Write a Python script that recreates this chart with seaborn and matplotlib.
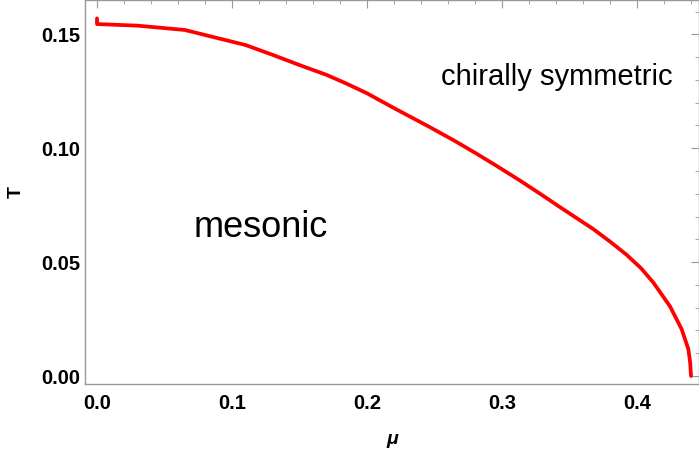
import matplotlib
matplotlib.use("Agg")
import matplotlib.pyplot as plt
import seaborn as sns
import pandas as pd
from matplotlib.ticker import MultipleLocator

sns.set_style("white")
plt.rcParams['font.family'] = ['Liberation Sans', 'DejaVu Sans']
plt.rcParams['text.color'] = 'black'
plt.rcParams['axes.labelcolor'] = 'black'

mu = [0.0, 0.0, 0.03, 0.065, 0.11, 0.13, 0.15, 0.17, 0.185, 0.20, 0.22, 0.2467,
      0.265, 0.28, 0.295, 0.3133, 0.33, 0.343, 0.3676, 0.38, 0.3923, 0.403, 0.4121,
      0.4244, 0.4331, 0.438, 0.4393, 0.4400]
T = [0.157, 0.1545, 0.1538, 0.1519, 0.1453, 0.1410, 0.1365, 0.1322, 0.1283, 0.1241,
     0.1176, 0.1092, 0.1032, 0.0980, 0.0926, 0.0858, 0.0793, 0.0741, 0.0645, 0.0590,
     0.0532, 0.0473, 0.0410, 0.0306, 0.0205, 0.0118, 0.0062, 0.0]
xticks = [0.0, 0.1, 0.2, 0.3, 0.4]
yticks = [0.00, 0.05, 0.10, 0.15]
region_labels = ["mesonic", "chirally symmetric"]

df = pd.DataFrame({"mu": mu, "T": T})

fig = plt.figure(figsize=(6.99, 4.5), dpi=100)
ax = fig.add_axes([85/699, 66/450, (699-85)/699, 384/450])
sns.lineplot(data=df, x="mu", y="T", sort=False, estimator=None,
             color="#ff0000", linewidth=2.7, ax=ax)
ax.lines[0].set_solid_joinstyle("round")

ax.set_xlim(-0.00889, 0.4459)
ax.set_ylim(-0.00351, 0.16506)
ax.set_xticks(xticks)
ax.set_yticks(yticks)
ax.set_xticklabels([f"{v:.1f}" for v in xticks])
ax.set_yticklabels([f"{v:.2f}" for v in yticks])
ax.xaxis.set_minor_locator(MultipleLocator(0.02))
ax.yaxis.set_minor_locator(MultipleLocator(0.01))
gray = "#999999"
for s in ax.spines.values():
    s.set_color(gray)
    s.set_linewidth(1.0)
ax.tick_params(which="both", direction="in", top=True, right=True, color=gray,
               labelcolor="black")
ax.tick_params(which="major", length=5.5, width=0.8, labelsize=14.5)
ax.tick_params(which="minor", length=3.2, width=0.6)
ax.tick_params(axis="x", which="major", pad=7)
ax.tick_params(axis="y", which="major", pad=3.5)
for lab in ax.get_xticklabels() + ax.get_yticklabels():
    lab.set_fontweight("bold")

ax.set_xlabel("μ", fontsize=14, fontweight="bold", fontstyle="italic", labelpad=13)
ax.set_ylabel("T", fontsize=14, fontweight="bold", labelpad=12)

ax.text(0.1215, 0.0612, region_labels[0], fontsize=26, ha="center", va="baseline")
ax.text(0.3405, 0.1277, region_labels[1], fontsize=21, ha="center", va="baseline")

fig.savefig("out.png", dpi=100)
